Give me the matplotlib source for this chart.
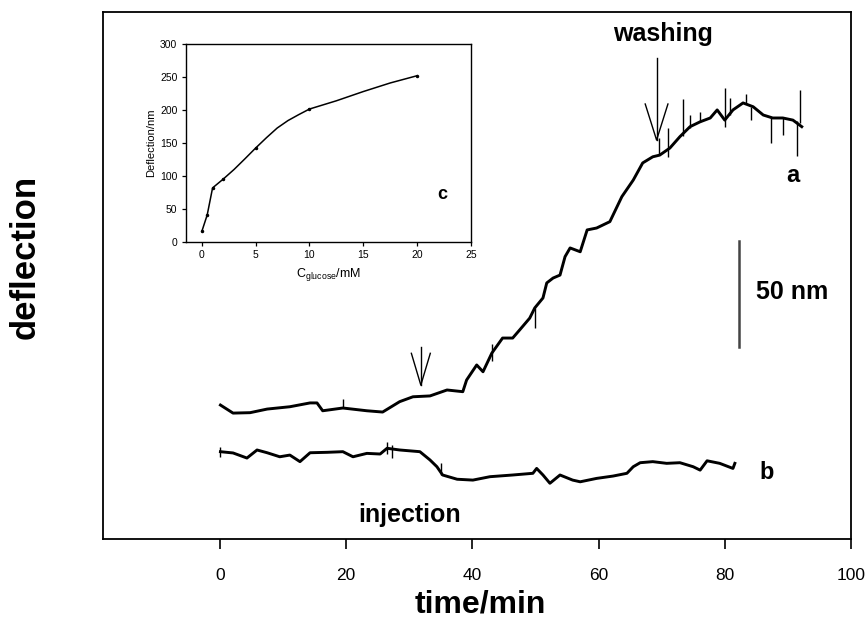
import matplotlib
matplotlib.use("Agg")
import matplotlib.pyplot as plt

plt.rcParams['font.family'] = ['Liberation Sans', 'DejaVu Sans']

# trace a (time in min, deflection in nm)
time_a = [0.1, 2.1, 4.8, 7.5, 11.1, 14.3, 15.4, 16.3, 19.5, 23.3, 25.8, 28.5, 30.6,
          33.3, 36.0, 38.5, 39.1, 40.7, 41.7, 43.1, 44.8, 46.4, 47.5, 49.1, 49.9,
          51.2, 51.8, 52.8, 53.9, 54.7, 55.5, 57.1, 58.2, 59.7, 61.8, 63.7, 65.5,
          67.0, 68.6, 69.7, 71.3, 72.9, 74.5, 76.1, 77.7, 78.8, 80.0, 81.3, 82.9,
          84.5, 86.1, 87.6, 89.2, 90.8, 92.2]
defl_a = [63.2, 59.4, 59.6, 61.3, 62.4, 64.2, 64.2, 60.5, 61.8, 60.5, 59.9, 64.8, 67.1,
          67.5, 70.3, 69.5, 75.0, 82.1, 78.9, 87.7, 94.8, 94.8, 98.6, 104.2, 109.0,
          113.7, 120.8, 123.1, 124.5, 133.2, 137.3, 135.5, 145.8, 146.7, 149.7, 161.5, 169.3,
          177.4, 180.3, 181.1, 184.4, 189.8, 194.5, 196.8, 198.6, 202.4, 197.6, 202.4, 205.7,
          203.9, 200.0, 198.6, 198.6, 197.6, 194.5]

# noise spikes on trace a
spike_a_t = [19.5, 43.1, 49.9, 69.6, 71.0, 73.4, 74.5, 76.1, 80.0, 80.8, 83.4, 84.2, 87.3, 89.2, 91.4, 91.9]
spike_a_lo = [61.8, 84.0, 99.5, 181.0, 180.2, 190.0, 194.0, 196.8, 194.3, 200.0, 205.0, 197.6, 186.8, 190.6, 180.7, 196.0]
spike_a_hi = [66.0, 92.0, 109.0, 189.2, 193.9, 207.5, 200.0, 201.4, 212.7, 208.0, 209.9, 204.0, 199.0, 198.6, 197.0, 211.8]

# trace b
time_b = [0.1, 2.1, 4.3, 5.9, 7.5, 9.5, 11.1, 12.7, 14.3, 17.0, 19.5, 21.1, 23.3, 25.4,
          26.5, 28.5, 31.7, 33.3, 34.4, 35.3, 37.6, 40.1, 42.8, 46.4, 49.6, 50.2, 51.2,
          52.3, 53.9, 55.9, 57.1, 59.7, 62.3, 64.5, 65.5, 66.6, 68.6, 70.8, 72.9, 75.0,
          76.1, 77.2, 79.2, 81.3, 81.6]
defl_b = [41.2, 40.6, 38.2, 42.0, 40.7, 38.8, 39.6, 36.5, 40.7, 40.9, 41.2, 38.8, 40.4, 40.1,
          42.8, 42.0, 41.2, 37.3, 34.1, 30.2, 28.2, 27.8, 29.4, 30.2, 31.0, 33.3, 30.2,
          26.3, 30.2, 27.8, 27.0, 28.6, 29.7, 31.0, 34.1, 36.0, 36.5, 35.7, 36.0, 34.1,
          32.5, 36.9, 35.7, 33.3, 35.7]
spike_b_t = [0.1, 26.5, 27.3, 35.0]
spike_b_lo = [38.5, 40.0, 38.0, 30.0]
spike_b_hi = [43.5, 45.9, 44.5, 36.0]

# inset c: calibration curve
conc = [0, 0.5, 1, 2, 3, 4, 5, 6, 7, 8, 9, 10, 12.5, 15, 17.5, 20]
defl_c = [16, 41, 82, 95.5, 110, 126, 142.4, 158, 172.7, 184, 193, 201.5, 214, 228, 241, 252]
conc_marks = [0, 0.5, 1, 2, 5, 10, 20]
defl_marks = [16, 41, 82, 95.5, 142.4, 201.5, 252]

xticks_main = [0, 20, 40, 60, 80, 100]


def draw_arrow(ax, x, y_top, y_tip, head_len, head_half):
    ax.plot([x, x], [y_top, y_tip], color='black', lw=1.0)
    ax.plot([x - head_half, x, x + head_half],
            [y_tip + head_len, y_tip, y_tip + head_len], color='black', lw=1.0)


fig = plt.figure(figsize=(8.68, 6.21), dpi=100)
ax = fig.add_axes([0.1187, 0.1320, 0.8617, 0.8487])

ax.plot(time_a, defl_a, color='black', lw=2.1)
ax.vlines(spike_a_t, spike_a_lo, spike_a_hi, color='black', lw=1.0)
ax.plot(time_b, defl_b, color='black', lw=2.1)
ax.vlines(spike_b_t, spike_b_lo, spike_b_hi, color='black', lw=1.0)

ax.set_xlim(-18.5, 100)
ax.set_ylim(0, 248.6)
ax.set_xticks(xticks_main)
ax.set_yticks([])
ax.tick_params(axis='x', direction='out', length=7, width=1.2, labelsize=12.5, pad=14)
for sp in ax.spines.values():
    sp.set_linewidth(1.3)

fig.text(0.553, 0.026, 'time/min', fontsize=23, fontweight='bold', ha='center', va='center')
fig.text(0.029, 0.586, 'deflection', rotation=90, fontsize=25, fontweight='bold',
         ha='center', va='center')

# arrows and labels
draw_arrow(ax, 69.2, 226.9, 188.2, 17.0, 1.8)
ax.text(70.2, 238.2, 'washing', fontsize=18, fontweight='bold', ha='center', va='center')
draw_arrow(ax, 31.85, 90.6, 72.6, 15.0, 1.5)
ax.text(30.0, 11.3, 'injection', fontsize=18, fontweight='bold', ha='center', va='center')
ax.text(90.8, 171.7, 'a', fontsize=17, fontweight='bold', ha='center', va='center')
ax.text(86.7, 31.6, 'b', fontsize=17, fontweight='bold', ha='center', va='center')

# 50 nm scale bar
ax.plot([82.25, 82.25], [90.6, 140.6], color='#444444', lw=1.8)
ax.text(90.6, 116.5, '50 nm', fontsize=18, fontweight='bold', ha='center', va='center')

# inset
axi = fig.add_axes([0.2139, 0.6103, 0.3287, 0.3188])
axi.plot(conc, defl_c, color='black', lw=1.1)
axi.plot(conc_marks, defl_marks, 'k.', ms=3)
axi.set_xlim(-1.5, 25)
axi.set_ylim(0, 300)
axi.set_xticks([0, 5, 10, 15, 20, 25])
axi.set_yticks([0, 50, 100, 150, 200, 250, 300])
axi.tick_params(direction='out', length=3, width=0.9, labelsize=7.5, pad=3)
for sp in axi.spines.values():
    sp.set_linewidth(1.0)
axi.set_xlabel(r'C$_{\mathregular{glucose}}$/mM', fontsize=9, labelpad=4)
axi.set_ylabel('Deflection/nm', fontsize=8, labelpad=3)
axi.text(22.3, 72, 'c', fontsize=13, fontweight='bold', ha='center', va='center')

fig.savefig('out.png', dpi=100)
